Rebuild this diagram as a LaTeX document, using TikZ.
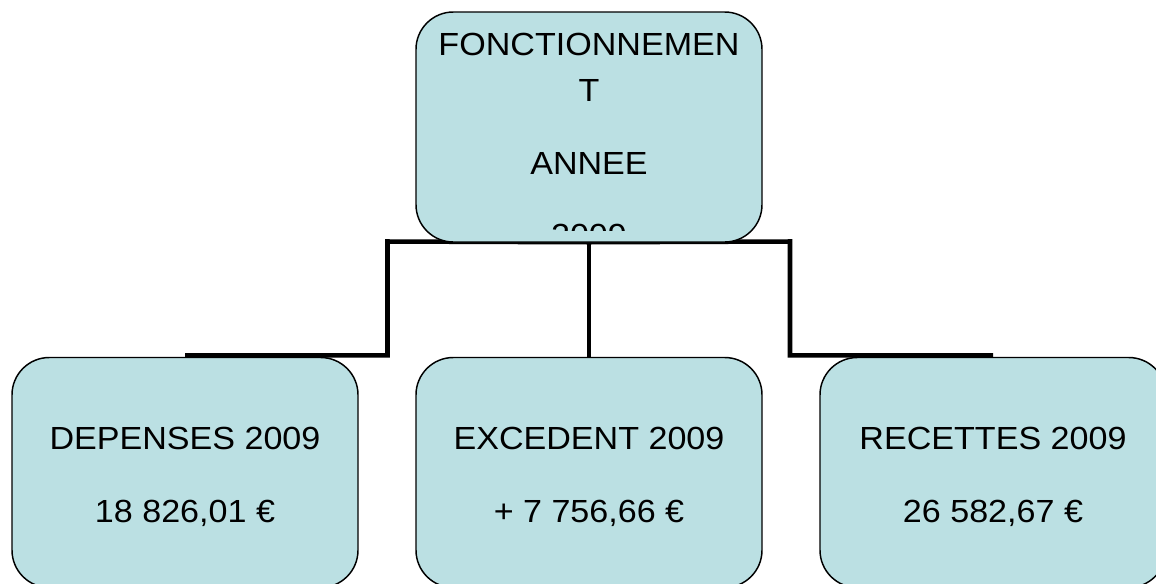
\documentclass[tikz,border=0pt]{standalone}
\usepackage{fontspec}
\setmainfont{Liberation Sans}[FakeStretch=1.065]
\usetikzlibrary{backgrounds,calc}
\definecolor{boxfill}{RGB}{187,224,227}
\begin{document}
\begin{tikzpicture}[x=0.75pt,y=-0.75pt,
  box/.style={draw=black, line width=1.1pt, fill=boxfill, rounded corners=28pt,
              minimum width=259.5pt, minimum height=172.5pt, inner sep=0pt},
  lbl/.style={anchor=base, inner sep=0pt, font=\fontsize{24pt}{28pt}\selectfont},
  conn/.style={draw=black, line width=3.4pt, line join=miter}]
\useasboundingbox (0,0) rectangle (1156,583);
\node[box] (top) at (589,127) {};
\node[box] (dep) at (185,472.5) {};
\node[box] (exc) at (589,472.5) {};
\node[box] (rec) at (993,472.5) {};
\begin{scope}
  \clip (416,12) rectangle (762,230);
  \node[lbl] (t1) at (589,55) {FONCTIONNEMEN};
  \node[lbl] (t2) at (589,101) {T};
  \node[lbl] (t3) at (589,174) {ANNEE};
  \node[lbl] (t4) at (589,246) {2009};
\end{scope}
\node[lbl] (d1) at (185,449) {DEPENSES 2009};
\node[lbl] (d2) at (185,522) {18 826,01 €};
\node[lbl] (e1) at (589,449) {EXCEDENT 2009};
\node[lbl] (e2) at (589,522) {+ 7 756,66 €};
\node[lbl] (r1) at (993,449) {RECETTES 2009};
\node[lbl] (r2) at (993,522) {26 582,67 €};
\coordinate (jl) at (387.5,241.5);
\coordinate (jr) at (790,241.5);
\begin{pgfonlayer}{background}
  \draw[conn] ($(top.south)+(0,-0.5)$) -- (jl) |- ($(dep.north)+(0,-1.5)$);
  \draw[conn] (top.south) -- (exc.north);
  \draw[conn] ($(top.south)+(0,-0.5)$) -- (jr) |- ($(rec.north)+(0,-1.5)$);
\end{pgfonlayer}
\end{tikzpicture}
\end{document}
